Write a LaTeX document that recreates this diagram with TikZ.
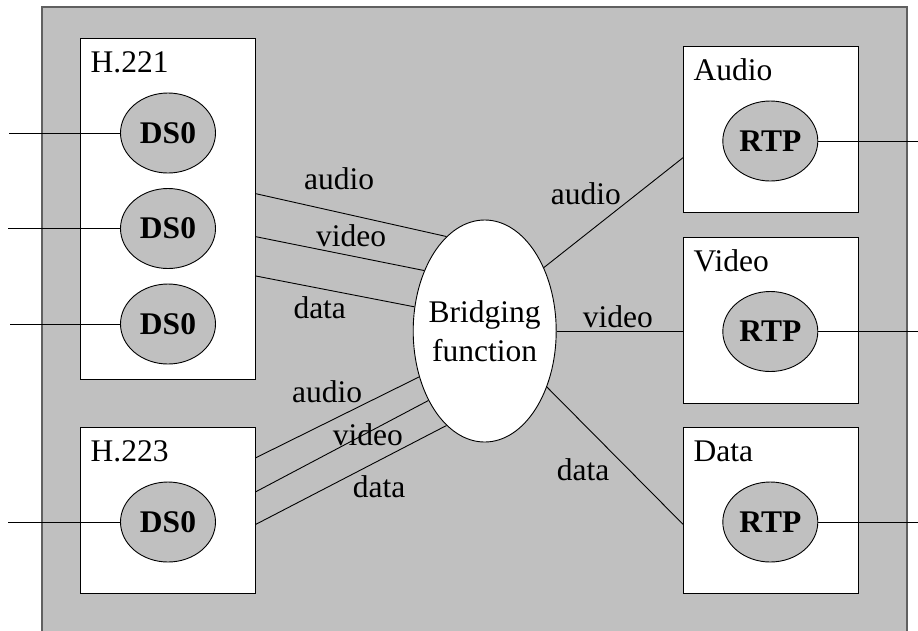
\documentclass[tikz,border=0pt]{standalone}
\usepackage{fontspec}
\setmainfont{Liberation Serif}
\usetikzlibrary{shapes.geometric,calc}
\definecolor{panel}{RGB}{192,192,192}
\definecolor{frame}{RGB}{96,96,96}
\begin{document}
\begin{tikzpicture}[x=1pt,y=-1pt,
  every node/.style={font=\fontsize{31.5}{38}\selectfont},
  wbox/.style={draw=black,line width=0.9pt,fill=white,inner sep=0pt,minimum width=175pt,anchor=north west},
  chan/.style={ellipse,draw=black,line width=0.9pt,fill=panel,inner sep=0pt,minimum width=95pt,minimum height=80pt,font=\fontsize{31.5}{38}\selectfont\bfseries},
  lbl/.style={anchor=base west,inner sep=0pt},
  wire/.style={draw=black,line width=0.9pt}
]
\useasboundingbox (0,0) rectangle (918,630);
\clip (0,0) rectangle (918,630);
\node[draw=frame,line width=2pt,fill=panel,inner sep=0pt,minimum width=865pt,minimum height=640pt,anchor=north west] (outer) at (41,6) {};

% left boxes
\node[wbox,minimum height=341pt] (h221) at (80,38) {};
\node[wbox,minimum height=166pt] (h223) at (80,427) {};
% right boxes
\node[wbox,minimum height=166pt] (abox) at (683,46) {};
\node[wbox,minimum height=166pt] (vbox) at (683,237) {};
\node[wbox,minimum height=166pt] (dbox) at (683,427) {};

\node[lbl] (h221t) at ($(h221.north west)+(10.5,34.7)$) {H.221};
\node[lbl] (h223t) at ($(h223.north west)+(10.5,34.7)$) {H.223};
\node[lbl] (at) at ($(abox.north west)+(10.5,34.7)$) {Audio};
\node[lbl] (vt) at ($(vbox.north west)+(10.5,34.7)$) {Video};
\node[lbl] (dt) at ($(dbox.north west)+(10.5,34.7)$) {Data};

% DS0 ellipses
\node[chan] (ds1) at (168,133) {DS0};
\node[chan] (ds2) at (168,228.5) {DS0};
\node[chan] (ds3) at (168,324) {DS0};
\node[chan] (ds4) at (168,522) {DS0};
% RTP ellipses
\node[chan] (rtp1) at (770.3,141) {RTP};
\node[chan] (rtp2) at (770.3,331.5) {RTP};
\node[chan] (rtp3) at (770.3,522) {RTP};

% bridging function
\node[ellipse,draw=black,line width=0.9pt,fill=white,inner sep=0pt,minimum width=143pt,minimum height=222pt] (bridge) at (484.7,331) {};
\node[anchor=base,inner sep=0pt] (bt1) at (484.7,322.7) {Bridging};
\node[anchor=base,inner sep=0pt] (bt2) at (484.7,361) {function};

% external wires
\coordinate (e1) at (9,133);
\coordinate (e2) at (8,228.5);
\coordinate (e3) at (10,324);
\coordinate (e4) at (8,522);
\draw[wire] (e1) -- (ds1.west);
\draw[wire] (e2) -- (ds2.west);
\draw[wire] (e3) -- (ds3.west);
\draw[wire] (e4) -- (ds4.west);
\coordinate (r1) at (920,141);
\coordinate (r2) at (920,331.5);
\coordinate (r3) at (920,522);
\draw[wire] (rtp1.east) -- (r1);
\draw[wire] (rtp2.east) -- (r2);
\draw[wire] (rtp3.east) -- (r3);

% H.221 to bridge
\draw[wire] ($(h221.north east)+(0,155.7)$) -- (bridge.112.4);
\draw[wire] ($(h221.north east)+(0,198.7)$) -- (bridge.135.2);
\draw[wire] ($(h221.north east)+(0,238)$) -- (bridge.161.4);
% H.223 to bridge
\draw[wire] ($(h223.north east)+(0,30.7)$) -- (bridge.215.9);
\draw[wire] ($(h223.north east)+(0,64.7)$) -- (bridge.231.8);
\draw[wire] ($(h223.north east)+(0,97.3)$) -- (bridge.248);
% bridge to right boxes
\draw[wire] (bridge.47.9) -- ($(abox.north west)+(0,111.7)$);
\draw[wire] (bridge.east) -- (bridge.east -| vbox.west);
\draw[wire] (bridge.-42.2) -- ($(dbox.north west)+(0,97.3)$);

% connector labels
\node[lbl] (la1) at (304,189) {audio};
\node[lbl] (lv1) at (316,246) {video};
\node[lbl] (ld1) at (293.3,318) {data};
\node[lbl] (la2) at (292,402.3) {audio};
\node[lbl] (lv2) at (332.7,445) {video};
\node[lbl] (ld2) at (352.7,497.3) {data};
\node[lbl] (la3) at (550.7,204) {audio};
\node[lbl] (lv3) at (582.7,327) {video};
\node[lbl] (ld3) at (556.7,480) {data};
\end{tikzpicture}
\end{document}
